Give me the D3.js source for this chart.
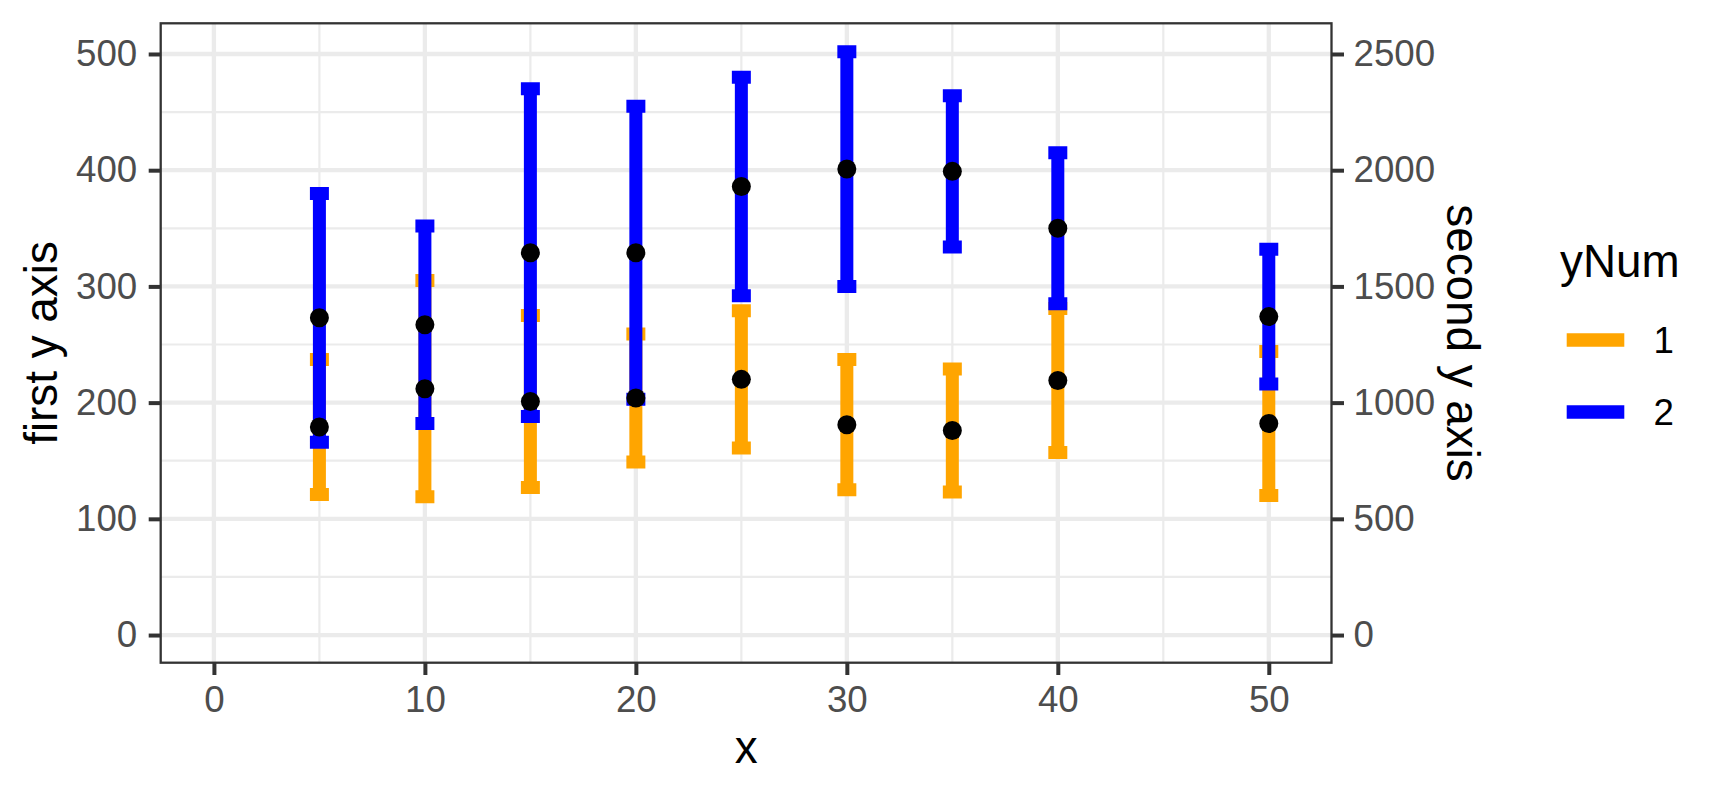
<!DOCTYPE html>
<html>
<head>
<meta charset="utf-8">
<script src="https://cdn.jsdelivr.net/npm/d3@7"></script>
<style>
  body { margin: 0; background: #fff; }
  svg { display: block; font-family: "Liberation Sans", Arial, sans-serif; }
</style>
</head>
<body>
<div class="chart"></div>
<script>
// x positions shared by both groups
const xValues = [5, 10, 15, 20, 25, 30, 35, 40, 50]

// yNum 1 (orange)
const mean1 = [179, 212, 201, 204, 220, 181, 176, 219, 182]
const low1 = [121, 119, 127, 149, 161, 125, 123, 157, 120]
const high1 = [237, 305, 275, 259, 279, 237, 229, 281, 244]

// yNum 2 (blue)
const mean2 = [273, 267, 329, 329, 386, 401, 399, 350, 274]
const low2 = [166, 182, 188, 203, 292, 300, 334, 285, 216]
const high2 = [380, 352, 470, 455, 480, 502, 464, 415, 332]

const groups = ['1', '2']
const groupColors = ['orange', 'blue']

const xTicks = [0, 10, 20, 30, 40, 50]
const xMinorTicks = [5, 15, 25, 35, 45]
const yTicks = [0, 100, 200, 300, 400, 500]
const yMinorTicks = [50, 150, 250, 350, 450]
const y2Ticks = [0, 500, 1000, 1500, 2000, 2500]

const width = 1725
const height = 795
const panel = { left: 160.7, right: 1331.5, top: 23.3, bottom: 662.7 }
const capHalf = 0.45 // errorbar width 0.9

const rows = []
xValues.forEach((x, i) => {
  rows.push({ x: x, group: '1', mean: mean1[i], low: low1[i], high: high1[i] })
})
xValues.forEach((x, i) => {
  rows.push({ x: x, group: '2', mean: mean2[i], low: low2[i], high: high2[i] })
})

const svg = d3
  .select('.chart')
  .append('svg')
  .attr('width', width)
  .attr('height', height)

const xScale = d3
  .scaleLinear()
  .domain([-2.5225, 52.9725])
  .range([panel.left, panel.right])

const yScale = d3
  .scaleLinear()
  .domain([-23.8, 526.4])
  .range([panel.bottom, panel.top])

// second axis is first * 5
const y2Scale = d3
  .scaleLinear()
  .domain(yScale.domain().map(d => d * 5))
  .range(yScale.range())

const color = d3.scaleOrdinal().domain(groups).range(groupColors)

// grid
const grid = svg.append('g').attr('stroke', '#EBEBEB')
grid.selectAll('.hminor')
  .data(yMinorTicks)
  .enter()
  .append('line')
  .attr('x1', panel.left).attr('x2', panel.right)
  .attr('y1', d => yScale(d)).attr('y2', d => yScale(d))
  .attr('stroke-width', 2.2)
grid.selectAll('.vminor')
  .data(xMinorTicks)
  .enter()
  .append('line')
  .attr('y1', panel.top).attr('y2', panel.bottom)
  .attr('x1', d => xScale(d)).attr('x2', d => xScale(d))
  .attr('stroke-width', 2.2)
grid.selectAll('.hmajor')
  .data(yTicks)
  .enter()
  .append('line')
  .attr('x1', panel.left).attr('x2', panel.right)
  .attr('y1', d => yScale(d)).attr('y2', d => yScale(d))
  .attr('stroke-width', 4.3)
grid.selectAll('.vmajor')
  .data(xTicks)
  .enter()
  .append('line')
  .attr('y1', panel.top).attr('y2', panel.bottom)
  .attr('x1', d => xScale(d)).attr('x2', d => xScale(d))
  .attr('stroke-width', 4.3)

// errorbars: top cap, stem, bottom cap
const errorPath = d => {
  const p = d3.path()
  const x0 = xScale(d.x - capHalf)
  const x1 = xScale(d.x + capHalf)
  const xc = xScale(d.x)
  p.moveTo(x0, yScale(d.high))
  p.lineTo(x1, yScale(d.high))
  p.moveTo(xc, yScale(d.high))
  p.lineTo(xc, yScale(d.low))
  p.moveTo(x0, yScale(d.low))
  p.lineTo(x1, yScale(d.low))
  return p.toString()
}

svg.append('g')
  .selectAll('path')
  .data(rows)
  .enter()
  .append('path')
  .attr('d', errorPath)
  .attr('fill', 'none')
  .attr('stroke', d => color(d.group))
  .attr('stroke-width', 13)
  .attr('stroke-linecap', 'butt')

svg.append('g')
  .selectAll('circle')
  .data(rows)
  .enter()
  .append('circle')
  .attr('cx', d => xScale(d.x))
  .attr('cy', d => yScale(d.mean))
  .attr('r', 9.5)
  .attr('fill', '#000')

// panel border
svg.append('rect')
  .attr('x', panel.left)
  .attr('y', panel.top)
  .attr('width', panel.right - panel.left)
  .attr('height', panel.bottom - panel.top)
  .attr('fill', 'none')
  .attr('stroke', '#333333')
  .attr('stroke-width', 2.3)

// axes
const styleAxis = (g) => {
  g.select('.domain').remove()
  g.selectAll('.tick line').attr('stroke', '#333333').attr('stroke-width', 4)
  g.selectAll('.tick text')
    .attr('fill', '#4D4D4D')
    .style('font-size', '36.7px')
    .style('font-family', '"Liberation Sans", Arial, sans-serif')
}

svg.append('g')
  .attr('transform', `translate(0, ${panel.bottom})`)
  .call(d3.axisBottom(xScale).tickValues(xTicks).tickSize(12.3).tickPadding(11).tickFormat(d3.format('d')))
  .call(styleAxis)

svg.append('g')
  .attr('transform', `translate(${panel.left}, 0)`)
  .call(d3.axisLeft(yScale).tickValues(yTicks).tickSize(12).tickPadding(11.5).tickFormat(d3.format('d')))
  .call(styleAxis)

svg.append('g')
  .attr('transform', `translate(${panel.right}, 0)`)
  .call(d3.axisRight(y2Scale).tickValues(y2Ticks).tickSize(12.5).tickPadding(9.5).tickFormat(d3.format('d')))
  .call(styleAxis)

// axis titles
svg.append('text')
  .attr('x', (panel.left + panel.right) / 2)
  .attr('y', 762.7)
  .attr('text-anchor', 'middle')
  .style('font-size', '45.8px')
  .text('x')

svg.append('text')
  .attr('transform', `translate(56.7, ${(panel.top + panel.bottom) / 2}) rotate(-90)`)
  .attr('text-anchor', 'middle')
  .style('font-size', '45.8px')
  .text('first y axis')

svg.append('text')
  .attr('transform', `translate(1447, ${(panel.top + panel.bottom) / 2}) rotate(90)`)
  .attr('text-anchor', 'middle')
  .style('font-size', '45.8px')
  .text('second y axis')

// legend
const legend = svg.append('g')
legend.append('text')
  .attr('x', 1560)
  .attr('y', 276.7)
  .style('font-size', '45.8px')
  .text('yNum')

const keys = legend.selectAll('.key')
  .data(groups)
  .enter()
  .append('g')
  .attr('class', 'key')
  .attr('transform', (d, i) => `translate(1559.5, ${304 + i * 72})`)

keys.append('line')
  .attr('x1', 7.2).attr('x2', 64.8)
  .attr('y1', 36).attr('y2', 36)
  .attr('stroke', d => color(d))
  .attr('stroke-width', 13.7)

keys.append('text')
  .attr('x', 94)
  .attr('y', 36 + 13.3)
  .style('font-size', '36.7px')
  .text(d => d)
</script>
</body>
</html>
